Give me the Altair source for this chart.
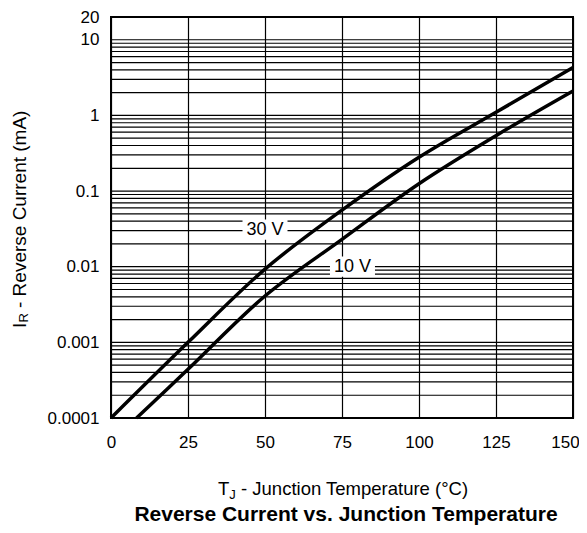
import altair as alt
import pandas as pd

# ---- data ----
temp_30v = [0, 25, 50, 75, 100, 125, 150]
current_30v = [0.0001, 0.001, 0.0093, 0.056, 0.28, 1.1, 4.3]
temp_10v = [8.3, 25, 50, 75, 100, 125, 150]
current_10v = [0.0001, 0.00044, 0.0041, 0.023, 0.125, 0.54, 2.1]

x_ticks = [0, 25, 50, 75, 100, 125, 150]
y_labels = [0.0001, 0.001, 0.01, 0.1, 1, 10, 20]
y_grid = [m * 10.0 ** e for e in range(-4, 1) for m in range(1, 10)] + [10]

series_labels = ["30 V", "10 V"]
label_temp = [50, 78.4]
label_current = [0.031, 0.0100]

FONT = "Liberation Sans"
W, H = 462, 401

xs = alt.Scale(domain=[0, 150], nice=False, zero=False)
ys = alt.Scale(type="log", domain=[0.0001, 20], nice=False)

curves = pd.DataFrame({
    "T": temp_30v + temp_10v,
    "I": current_30v + current_10v,
    "s": ["30 V"] * len(temp_30v) + ["10 V"] * len(temp_10v),
})
grid_df = pd.DataFrame({"I": y_grid})
lab_df = pd.DataFrame({"T": label_temp, "I": label_current, "t": series_labels})
one = pd.DataFrame({"k": [0]})

x_axis = alt.Axis(values=x_ticks, grid=True, gridColor="black", gridWidth=1.2, gridOpacity=1,
                  domain=False, ticks=False, labelFontSize=17, labelFont=FONT,
                  labelColor="black", labelPadding=16, labelFlush=False, title=None,
                  labelOffset={"condition": {"test": "datum.value == 150", "value": -8}, "value": 0})
y_axis = alt.Axis(values=y_labels, grid=False, domain=False, ticks=False, format="~g",
                  labelFontSize=17, labelFont=FONT, labelColor="black", labelPadding=12,
                  labelFlush=False, labelBaseline="middle", title=None)

X = alt.X("T:Q", scale=xs, axis=x_axis)
Y = alt.Y("I:Q", scale=ys, axis=y_axis)

hgrid = alt.Chart(grid_df).mark_rule(color="black", strokeWidth=1.2).encode(y=Y)

lines = alt.Chart(curves).mark_line(color="black", strokeWidth=3.5, interpolate="catmull-rom").encode(
    x=X, y=Y, detail="s:N",
)

boxes = alt.Chart(lab_df).mark_point(
    shape="M-1,-0.45H1V0.45H-1Z", size=45 * 45, filled=True, color="white", opacity=1
).encode(x=X, y=Y)

texts = alt.Chart(lab_df).mark_text(
    font=FONT, fontSize=18, color="black", align="center", baseline="middle"
).encode(x=X, y=Y, text="t:N")

def txt(s, x, y, size, angle=0, bold=False, align="left"):
    return alt.Chart(one).mark_text(
        text=s, font=FONT, fontSize=size, color="black", align=align,
        baseline="alphabetic", angle=angle, fontWeight="bold" if bold else "normal",
    ).encode(x=alt.value(x), y=alt.value(y))

titles = [
    txt("I", -85, 311, 19, angle=270),
    txt("R", -83, 305.5, 13, angle=270),
    txt("- Reverse Current (mA)", -85, 291, 19, angle=270),
    txt("T", 107, 478, 18.5),
    txt("J", 118.3, 482, 13),
    txt("- Junction Temperature (°C)", 130, 478, 18.5),
    txt("Reverse Current vs. Junction Temperature", 235, 504, 21, bold=True, align="center"),
]

chart = alt.layer(hgrid, lines, boxes, texts, *titles).properties(
    width=W, height=H,
    autosize=alt.AutoSizeParams(type="none"),
    padding={"left": 103, "top": 9, "right": 6, "bottom": 108},
).configure_view(stroke="black", strokeWidth=2)

chart.save("out.html", embed_options={"renderer": "svg", "actions": False})
